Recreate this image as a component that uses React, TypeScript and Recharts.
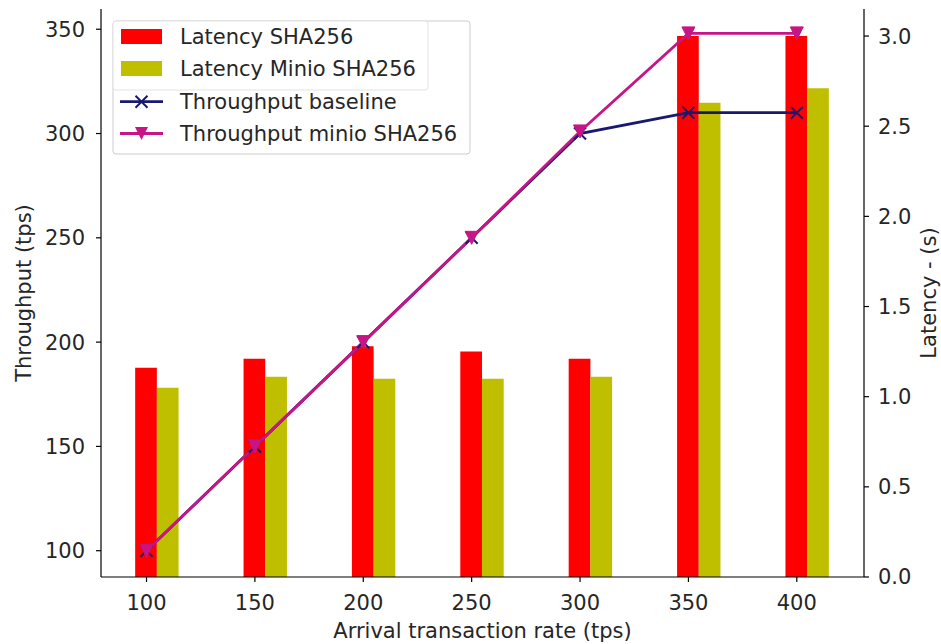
import React from "react";
import { Bar, ComposedChart, Line, XAxis, YAxis } from "recharts";

const rates = [100, 150, 200, 250, 300, 350, 400];
const latencySha256 = [1.16, 1.21, 1.28, 1.25, 1.21, 3.0, 3.0];
const latencyMinioSha256 = [1.05, 1.11, 1.1, 1.1, 1.11, 2.63, 2.71];
const throughputBaseline = [100, 150, 200, 250, 300, 310, 310];
const throughputMinio = [100, 150, 200, 250, 301, 348, 348];
const throughputTicks = [100, 150, 200, 250, 300, 350];
const latencyTicks = [0, 0.5, 1, 1.5, 2, 2.5, 3];

const RED = "#ff0000";
const OLIVE = "#bfbf00";
const NAVY = "#191970";
const VIOLET = "#c71585";
const FONT = "DejaVu Sans";
const TEXT = "#262626";

const data = rates.map((rate, i) => ({
  rate,
  latSha: latencySha256[i],
  latMinio: latencyMinioSha256[i],
  tpBase: throughputBaseline[i],
  tpMinio: throughputMinio[i],
}));

const tick = { fill: TEXT, fontSize: 21, fontFamily: FONT };
const axisLine = { stroke: "#000", strokeWidth: 1.2 };
const tickLine = { stroke: "#000", strokeWidth: 1.2 };

function crossPath(cx: number, cy: number, s: number) {
  return `M${cx - s},${cy - s}L${cx + s},${cy + s}M${cx - s},${cy + s}L${cx + s},${cy - s}`;
}

function trianglePath(cx: number, cy: number, s: number) {
  return `M${cx - s},${cy - s}L${cx + s},${cy - s}L${cx},${cy + s}Z`;
}

const CrossDot = (props: any) => {
  const { cx, cy, index } = props;
  if (cx == null || cy == null) return <g key={`x-${index}`} />;
  return (
    <path key={`x-${index}`} d={crossPath(cx, cy, 6)} stroke={NAVY} strokeWidth={2} fill="none" />
  );
};

const TriangleDot = (props: any) => {
  const { cx, cy, index } = props;
  if (cx == null || cy == null) return <g key={`v-${index}`} />;
  return <path key={`v-${index}`} d={trianglePath(cx, cy, 6.5)} fill={VIOLET} stroke={VIOLET} strokeWidth={1} />;
};

function Overlay() {
  const textStyle = { fontFamily: FONT, fontSize: 21, fill: TEXT };
  return (
    <svg
      width={933}
      height={636}
      style={{ position: "absolute", left: 0, top: 0, pointerEvents: "none" }}
    >
      {/* legend */}
      <rect x={105} y={13} width={357} height={133} rx={3} fill="#fff" fillOpacity={0.8} stroke="#cccccc" />
      <rect x={105} y={13} width={315} height={69} rx={3} fill="#fff" fillOpacity={0.8} stroke="#e3e3e3" />
      <rect x={113} y={21} width={41} height={15} fill={RED} />
      <text x={172} y={36} {...textStyle}>Latency SHA256</text>
      <rect x={113} y={53} width={41} height={15} fill={OLIVE} />
      <text x={172} y={68} {...textStyle}>Latency Minio SHA256</text>
      <line x1={112} y1={93.7} x2={155} y2={93.7} stroke={NAVY} strokeWidth={2.8} />
      <path d={crossPath(133.5, 93.7, 6)} stroke={NAVY} strokeWidth={2} fill="none" />
      <text x={172} y={101} {...textStyle}>Throughput baseline</text>
      <line x1={112} y1={125.5} x2={155} y2={125.5} stroke={VIOLET} strokeWidth={2.8} />
      <path d={trianglePath(133.5, 125.5, 6.5)} fill={VIOLET} />
      <text x={172} y={133} {...textStyle}>Throughput minio SHA256</text>

      {/* axis titles */}
      <text x={474.5} y={630} textAnchor="middle" {...textStyle}>
        Arrival transaction rate (tps)
      </text>
      <text x={22.5} y={285} textAnchor="middle" transform="rotate(-90 22.5 285)" {...textStyle}>
        Throughput (tps)
      </text>
      <text x={927.5} y={285} textAnchor="middle" transform="rotate(-90 927.5 285)" {...textStyle}>
        Latency - (s)
      </text>
    </svg>
  );
}

export default function App() {
  return (
    <div style={{ position: "absolute", left: 8, top: 8, width: 933, height: 636 }}>
      <ComposedChart
        width={933}
        height={636}
        data={data}
        margin={{ top: 1, right: 0, bottom: 0, left: 0 }}
        barGap={0}
      >
        <XAxis
          xAxisId="main"
          dataKey="rate"
          type="number"
          domain={[79, 431]}
          allowDataOverflow
          ticks={rates}
          interval={0}
          height={67}
          tick={tick}
          tickSize={5}
          tickMargin={13}
          axisLine={axisLine}
          tickLine={tickLine}
        />
        {/* hidden shifted axis so each pair of bars sits at rate..rate+10; also draws the top spine */}
        <XAxis
          xAxisId="bars"
          orientation="top"
          dataKey="rate"
          type="number"
          domain={[74, 426]}
          allowDataOverflow
          ticks={rates}
          height={0}
          tick={false}
          tickLine={false}
          axisLine={axisLine}
        />
        <YAxis
          yAxisId="left"
          type="number"
          domain={[87.4, 359.7]}
          allowDataOverflow
          ticks={throughputTicks}
          interval={0}
          width={93}
          tick={tick}
          tickSize={5}
          tickMargin={11}
          axisLine={axisLine}
          tickLine={tickLine}
        />
        <YAxis
          yAxisId="right"
          orientation="right"
          type="number"
          domain={[0, 3.15]}
          allowDataOverflow
          ticks={latencyTicks}
          interval={0}
          width={77}
          tick={tick}
          tickSize={5}
          tickMargin={9}
          tickFormatter={(v: number) => v.toFixed(1)}
          axisLine={axisLine}
          tickLine={tickLine}
        />
        <Bar
          xAxisId="bars"
          yAxisId="right"
          dataKey="latSha"
          name="Latency SHA256"
          fill={RED}
          barSize={21.7}
          isAnimationActive={false}
        />
        <Bar
          xAxisId="bars"
          yAxisId="right"
          dataKey="latMinio"
          name="Latency Minio SHA256"
          fill={OLIVE}
          barSize={21.7}
          isAnimationActive={false}
        />
        <Line
          xAxisId="main"
          yAxisId="left"
          type="linear"
          dataKey="tpBase"
          name="Throughput baseline"
          stroke={NAVY}
          strokeWidth={2.8}
          dot={CrossDot}
          activeDot={false}
          isAnimationActive={false}
        />
        <Line
          xAxisId="main"
          yAxisId="left"
          type="linear"
          dataKey="tpMinio"
          name="Throughput minio SHA256"
          stroke={VIOLET}
          strokeWidth={2.8}
          dot={TriangleDot}
          activeDot={false}
          isAnimationActive={false}
        />
      </ComposedChart>
      <Overlay />
    </div>
  );
}
